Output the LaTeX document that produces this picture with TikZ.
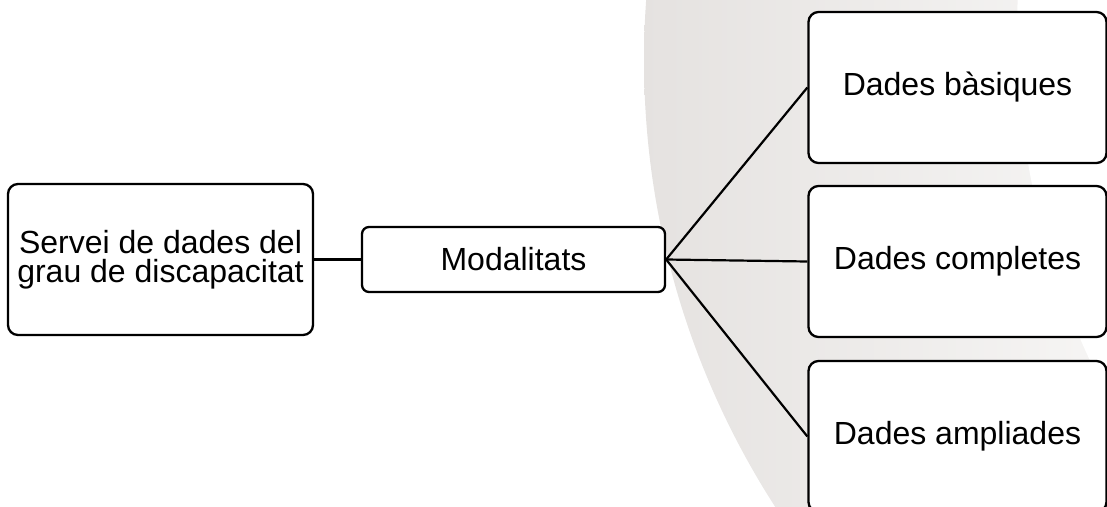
\documentclass[tikz,border=0pt]{standalone}
\usepackage{fontspec}
\setmainfont{Liberation Sans}
\definecolor{bgL}{RGB}{229,226,224}
\definecolor{bgR}{RGB}{246,245,244}
\begin{document}
\begin{tikzpicture}[x=1pt,y=-1pt,
  box/.style={draw=black, line width=2.3pt, rounded corners=10pt, fill=white, align=center, inner sep=0pt, font=\fontsize{32}{29.5}\selectfont},
  link/.style={draw=black, line width=2.2pt}]
\useasboundingbox (0,0) rectangle (1107,506);
\begin{scope}
  \clip (0,0) rectangle (1107,506);
  \begin{scope}
    \clip (1470,60) circle[radius=826pt];
    \shade[left color=bgL, right color=bgR] (640,0) rectangle (1107,506);
  \end{scope}
  \fill[white] (1791,32) circle[radius=774pt];
\end{scope}
\node[box, minimum width=305pt, minimum height=151pt] (src) at (160.5,259.5) {Servei de dades del\\grau de discapacitat};
\node[box, rounded corners=7pt, minimum width=303pt, minimum height=65pt] (mod) at (513.5,259.5) {Modalitats};
\node[box, minimum width=298pt, minimum height=151pt] (b1) at (957.5,87.5) {Dades bàsiques};
\node[box, minimum width=298pt, minimum height=151pt] (b2) at (957.5,261.5) {Dades completes};
\node[box, minimum width=298pt, minimum height=151pt] (b3) at (957.5,436.5) {Dades ampliades};
\draw[link] (src.east) -- (mod.west);
\draw[link] (mod.east) -- (b1.west);
\draw[link] (mod.east) -- (b2.west);
\draw[link] (mod.east) -- (b3.west);
\end{tikzpicture}
\end{document}
